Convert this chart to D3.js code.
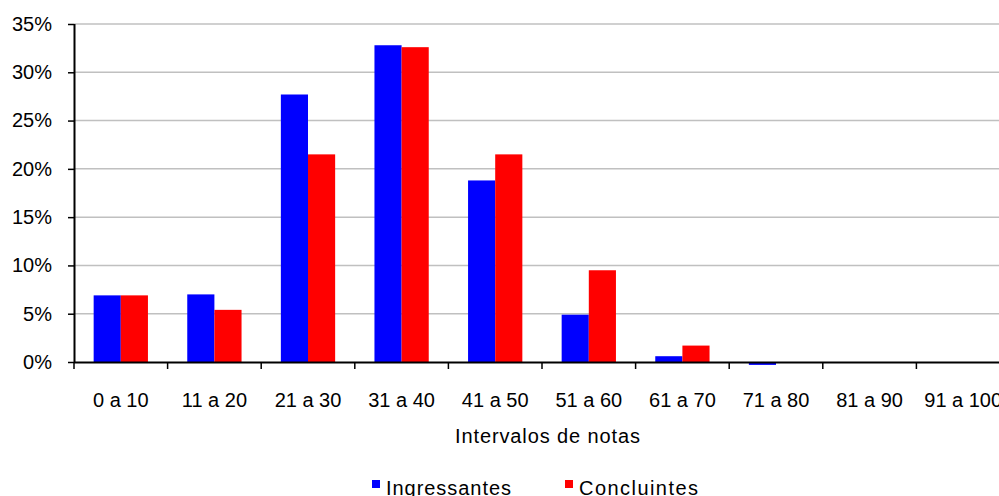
<!DOCTYPE html>
<html>
<head>
<meta charset="utf-8">
<script src="https://cdn.jsdelivr.net/npm/d3@7"></script>
<style>
  html, body { margin: 0; padding: 0; background: #fff; }
  svg { display: block; }
  text { font-family: "Liberation Sans", Arial, sans-serif; fill: #000; }
</style>
</head>
<body>
<div id="chart"></div>
<script>
const categories = ["0 a 10", "11 a 20", "21 a 30", "31 a 40", "41 a 50", "51 a 60", "61 a 70", "71 a 80", "81 a 90", "91 a 100"];
const seriesNames = ["Ingressantes", "Concluintes"];
const ingressantes = [0.069, 0.070, 0.277, 0.328, 0.188, 0.049, 0.006, -0.003, 0, 0];
const concluintes = [0.069, 0.054, 0.215, 0.326, 0.215, 0.095, 0.017, 0, 0, 0];
const yTicks = [0, 0.05, 0.10, 0.15, 0.20, 0.25, 0.30, 0.35];
const colors = ["#0000ff", "#ff0000"];
const xTitle = "Intervalos de notas";

const W = 999, H = 496;
const mLeft = 74, mRight = 1010, mTop = 24, mBottom = 362;

const svg = d3.select("#chart").append("svg").attr("width", W).attr("height", H);

const x0 = d3.scaleBand().domain(categories).range([mLeft, mRight]).padding(0);
const bw = x0.bandwidth();
const x1 = d3.scaleBand().domain(seriesNames).range([bw * 0.21, bw * 0.79]).padding(0);
const y = d3.scaleLinear().domain([0, 0.35]).range([mBottom, mTop]);

// gridlines
svg.append("g").selectAll("line").data(yTicks.filter(d => d > 0)).join("line")
  .attr("x1", mLeft).attr("x2", W)
  .attr("y1", d => y(d)).attr("y2", d => y(d))
  .attr("stroke", "#c0c0c0").attr("stroke-width", 1.5);

// bars
const data = categories.map((c, i) => ({ c, vals: [ingressantes[i], concluintes[i]] }));
const groups = svg.append("g").selectAll("g").data(data).join("g")
  .attr("transform", d => `translate(${x0(d.c)},0)`);
groups.selectAll("rect").data(d => d.vals.map((v, j) => ({ v, s: seriesNames[j], j })))
  .join("rect")
  .attr("x", d => x1(d.s))
  .attr("width", x1.bandwidth())
  .attr("y", d => Math.min(y(d.v), y(0)))
  .attr("height", d => Math.abs(y(d.v) - y(0)))
  .attr("fill", d => colors[d.j]);

// y axis
const yAxis = d3.axisLeft(y).tickValues(yTicks).tickFormat(d3.format(".0%")).tickSize(6).tickPadding(16);
const gy = svg.append("g").attr("transform", `translate(${mLeft},0)`).call(yAxis);
gy.select(".domain").attr("stroke", "#000").attr("stroke-width", 2).attr("d", `M0.5,${mTop}V${mBottom}`);
gy.selectAll(".tick line").attr("stroke", "#000").attr("stroke-width", 1.5);
gy.selectAll(".tick text").attr("font-size", 20).attr("font-family", "'Liberation Sans', Arial, sans-serif").attr("fill", "#000");

// x axis
const xEdges = d3.range(categories.length + 1).map(i => mLeft + i * bw);
const gx = svg.append("g");
gx.append("line").attr("x1", mLeft).attr("x2", W).attr("y1", mBottom + 0.5).attr("y2", mBottom + 0.5)
  .attr("stroke", "#000").attr("stroke-width", 2);
gx.selectAll("line.tk").data(xEdges).join("line").attr("class", "tk")
  .attr("x1", d => d).attr("x2", d => d).attr("y1", mBottom).attr("y2", mBottom + 7)
  .attr("stroke", "#000").attr("stroke-width", 1.5);
gx.selectAll("text").data(categories).join("text")
  .attr("x", d => x0(d) + bw / 2).attr("y", 407)
  .attr("text-anchor", "middle").attr("font-size", 20)
  .text(d => d);

// x title
svg.append("text").attr("x", 547.5).attr("y", 443).attr("text-anchor", "middle")
  .attr("font-size", 20).attr("textLength", 185).attr("lengthAdjust", "spacing").text(xTitle);

// legend
const legendX = [372, 565];
const legendLen = [125, 119];
const lg = svg.append("g").selectAll("g").data(seriesNames).join("g")
  .attr("transform", (d, i) => `translate(${legendX[i]},0)`);
lg.append("rect").attr("x", 0).attr("y", 480).attr("width", 8).attr("height", 8).attr("fill", (d, i) => colors[i]);
lg.append("text").attr("x", 14).attr("y", 494.5).attr("font-size", 20)
  .attr("textLength", (d, i) => legendLen[i]).attr("lengthAdjust", "spacing").text(d => d);
</script>
</body>
</html>
